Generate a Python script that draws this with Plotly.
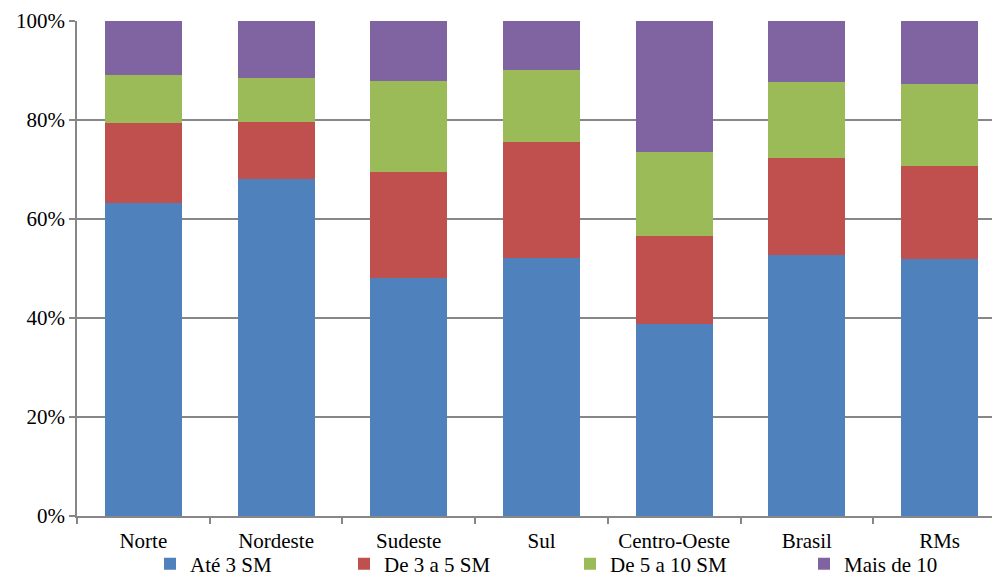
import plotly.graph_objects as go

# Income distribution by region (share of households, %)
regions = ["Norte", "Nordeste", "Sudeste", "Sul", "Centro-Oeste", "Brasil", "RMs"]
ate_3_sm = [63.2, 68.0, 48.1, 52.1, 38.7, 52.8, 52.0]
de_3_a_5_sm = [16.1, 11.5, 21.3, 23.4, 17.8, 19.5, 18.8]
de_5_a_10_sm = [9.8, 8.9, 18.4, 14.7, 17.0, 15.4, 16.4]
mais_de_10 = [10.9, 11.6, 12.2, 9.8, 26.5, 12.3, 12.8]

series_names = ["Até 3 SM", "De 3 a 5 SM", "De 5 a 10 SM", "Mais de 10"]
series_values = [ate_3_sm, de_3_a_5_sm, de_5_a_10_sm, mais_de_10]
series_colors = ["#4F81BD", "#C0504D", "#9BBB59", "#8064A2"]
y_ticks = [0, 20, 40, 60, 80, 100]
y_tick_labels = [f"{v}%" for v in y_ticks]

W, H = 992, 577
ML, MR, MT, MB = 77, 0, 21, 61
plot_w = W - ML - MR
plot_h = H - MT - MB

FONT = "Liberation Serif"
FONT_SIZE = 21
GRID = "#878787"

# legend anchor positions (pixel x of each legend entry's left edge)
legend_px = [150, 344, 570, 804]
legend_keys = ["legend", "legend2", "legend3", "legend4"]
legend_center_y = 564

fig = go.Figure()
for name, vals, color, key in zip(series_names, series_values, series_colors, legend_keys):
    fig.add_trace(go.Bar(
        x=regions, y=vals, name=name,
        marker=dict(color=color, line=dict(width=0)),
        width=0.58, legend=key,
    ))

layout_legends = {}
for key, px in zip(legend_keys, legend_px):
    layout_legends[key] = dict(
        x=(px - ML) / plot_w, xanchor="left",
        yref="container", y=(H - legend_center_y) / H, yanchor="middle",
        orientation="h", bgcolor="rgba(0,0,0,0)",
        font=dict(family=FONT, size=FONT_SIZE, color="black"),
        borderwidth=0, itemwidth=30,
        entrywidth=180, entrywidthmode="pixels",
    )

fig.update_layout(
    width=W, height=H,
    margin=dict(l=ML, r=MR, t=MT, b=MB, pad=0, autoexpand=False),
    barmode="stack",
    plot_bgcolor="white", paper_bgcolor="white",
    font=dict(family=FONT, size=FONT_SIZE, color="black"),
    showlegend=True,
    **layout_legends,
)

fig.update_xaxes(
    range=[-0.5, -0.5 + plot_w / 132.7],
    showline=True, linecolor=GRID, linewidth=1.5,
    ticks="outside", tickson="boundaries", ticklen=6, tickcolor=GRID, tickwidth=1.5,
    ticklabelstandoff=5,
    showgrid=False, zeroline=False,
    tickfont=dict(family=FONT, size=FONT_SIZE, color="black"),
)
fig.update_yaxes(
    range=[0, 100], tickmode="array", tickvals=y_ticks, ticktext=y_tick_labels,
    showline=True, linecolor=GRID, linewidth=1.5,
    ticks="outside", ticklen=6, tickcolor=GRID, tickwidth=1.5,
    showgrid=True, gridcolor=GRID, gridwidth=1.5,
    zeroline=False,
    tickfont=dict(family=FONT, size=FONT_SIZE, color="black"),
)

fig.write_html("out.html")
